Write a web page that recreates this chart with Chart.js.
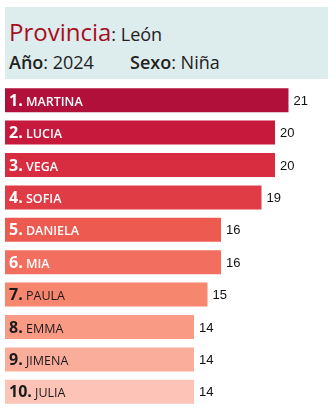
<!DOCTYPE html>
<html lang="es">
<head>
    <meta charset="UTF-8">
    <title>Nombres León 2024</title>
    <script src="https://cdn.jsdelivr.net/npm/chart.js"></script>
    <style>
        body { margin: 0; background: #fff; font-family: "Open Sans", sans-serif; }
        #header {
            position: absolute; left: 5px; top: 7px; width: 323px; height: 72px;
            background: #ddecec; color: #222;
        }
        #header div { position: absolute; white-space: nowrap; line-height: 1; }
        #header .prov { left: 4px; top: 13px; font-size: 18px; }
        #header .prov b { color: #a50f1f; font-weight: 400; font-size: 24px; }
        #header .anio { left: 4px; top: 46px; font-size: 18px; }
        #header .sexo { left: 125px; top: 46px; font-size: 18px; }
        #header b { font-weight: 600; }
        #chart-box { position: absolute; left: 0; top: 84px; width: 333px; height: 327px; }
    </style>
</head>
<body>
    <div id="header">
        <div class="prov"><b>Provincia</b>: León</div>
        <div class="anio"><b>Año</b>: 2024</div>
        <div class="sexo"><b>Sexo</b>: Niña</div>
    </div>
    <div id="chart-box"><canvas id="ranking"></canvas></div>

    <script>
        // data
        const names = ['MARTINA', 'LUCIA', 'VEGA', 'SOFIA', 'DANIELA', 'MIA', 'PAULA', 'EMMA', 'JIMENA', 'JULIA'];
        const counts = [21, 20, 20, 19, 16, 16, 15, 14, 14, 14];
        const barColors = ['#b01039', '#c7193c', '#d82c40', '#e03c45', '#ec5a50',
                           '#f26e5e', '#f6866e', '#f99a84', '#fbad9c', '#fdc3b7'];

        // labels inside the bars + value at the end
        const barLabels = {
            id: 'barLabels',
            afterDatasetsDraw(chart) {
                const ctx = chart.ctx;
                const meta = chart.getDatasetMeta(0);
                ctx.save();
                ctx.textBaseline = 'middle';
                meta.data.forEach((bar, i) => {
                    const dark = i >= 6;
                    const y = bar.y + 1;
                    const num = (i + 1) + '.';
                    ctx.fillStyle = dark ? '#1a1a1a' : '#ffffff';
                    ctx.font = '700 16px "Open Sans"';
                    ctx.textAlign = 'left';
                    ctx.fillText(num, 9, y);
                    const w = ctx.measureText(num).width;
                    ctx.font = (dark ? '400' : '600') + ' 12.5px "Open Sans"';
                    ctx.fillText(' ' + names[i], 9 + w, y + 1);

                    ctx.fillStyle = '#111';
                    ctx.font = '13px "Liberation Sans"';
                    ctx.fillText(counts[i], bar.x + 5, y);
                });
                ctx.restore();
            }
        };

        new Chart(document.getElementById('ranking'), {
            type: 'bar',
            data: {
                labels: names,
                datasets: [{
                    data: counts,
                    backgroundColor: barColors,
                    borderWidth: 0,
                    barPercentage: 0.74,
                    categoryPercentage: 1
                }]
            },
            options: {
                indexAxis: 'y',
                responsive: true,
                maintainAspectRatio: false,
                animation: false,
                layout: { padding: { left: 5, right: 4, top: 0, bottom: 3 } },
                plugins: { legend: { display: false }, tooltip: { enabled: false } },
                scales: {
                    x: { display: false, min: 0, max: 24 },
                    y: { display: false }
                }
            },
            plugins: [barLabels]
        });
    </script>
</body>
</html>
